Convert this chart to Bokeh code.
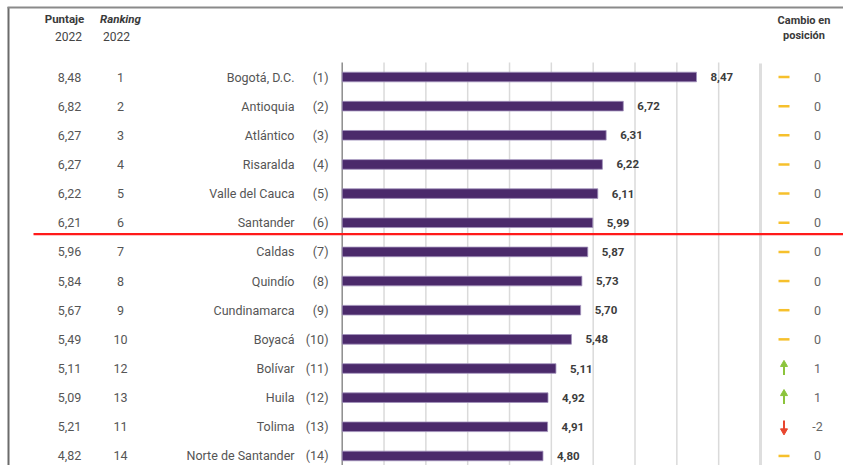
from bokeh.plotting import figure
from bokeh.models import Range1d, ColumnDataSource
from bokeh.embed import file_html
from bokeh.resources import INLINE
from bokeh.core.properties import value

# ---------------- data ----------------
departments = ["Bogotá, D.C.", "Antioquia", "Atlántico", "Risaralda", "Valle del Cauca",
               "Santander", "Caldas", "Quindío", "Cundinamarca", "Boyacá", "Bolívar",
               "Huila", "Tolima", "Norte de Santander"]
rank_2023 = [1, 2, 3, 4, 5, 6, 7, 8, 9, 10, 11, 12, 13, 14]
score_2023 = [8.47, 6.72, 6.31, 6.22, 6.11, 5.99, 5.87, 5.73, 5.70, 5.48, 5.11, 4.92, 4.91, 4.80]
score_2022 = [8.48, 6.82, 6.27, 6.27, 6.22, 6.21, 5.96, 5.84, 5.67, 5.49, 5.11, 5.09, 5.21, 4.82]
rank_2022 = [1, 2, 3, 4, 5, 6, 7, 8, 9, 10, 12, 13, 11, 14]
position_change = [0, 0, 0, 0, 0, 0, 0, 0, 0, 0, 1, 1, -2, 0]
grid_ticks = [1, 2, 3, 4, 5, 6, 7, 8, 9]
cutoff_after_row = 5.39   # red line between 6th and 7th department

# ---------------- layout ----------------
W, H = 843, 465
X0_PX, PX_PER_UNIT = 341.7, 41.83     # px of value 0, px per unit
Y0_PX, PX_PER_ROW = 76.5, 29.15       # px of row 0, px per row

x_start = -X0_PX / PX_PER_UNIT
x_end = (W - X0_PX) / PX_PER_UNIT
y_top = -Y0_PX / PX_PER_ROW
y_bot = (H - Y0_PX) / PX_PER_ROW

def px2x(px):
    return (px - X0_PX) / PX_PER_UNIT

def px2y(py):
    return (py - Y0_PX) / PX_PER_ROW

def fmt(v):
    return f"{v:.2f}".replace(".", ",")

rows = list(range(len(departments)))
FONT = value("Roboto")

p = figure(width=W, height=H, output_backend="svg", toolbar_location=None,
           x_range=Range1d(x_start, x_end), y_range=Range1d(y_bot, y_top),
           min_border=0, min_border_left=0, min_border_right=0,
           min_border_top=0, min_border_bottom=0)
p.xaxis.visible = False
p.yaxis.visible = False
p.xgrid.visible = False
p.ygrid.visible = False
p.outline_line_color = None
p.background_fill_color = "white"
p.border_fill_color = "white"

# frame borders (left & top)
p.segment(x0=[px2x(8)], x1=[px2x(8)], y0=[px2y(6.5)], y1=[y_bot + 1],
          line_color="#6b6b6b", line_width=2)
p.segment(x0=[px2x(7)], x1=[x_end + 1], y0=[px2y(7)], y1=[px2y(7)],
          line_color="#8a8a8a", line_width=2)

# gridlines
g_top = px2y(62)
p.segment(x0=grid_ticks, x1=grid_ticks, y0=[g_top] * len(grid_ticks), y1=[y_bot + 1] * len(grid_ticks),
          line_color="#dadada", line_width=1.5)
p.segment(x0=[10], x1=[10], y0=[px2y(63)], y1=[y_bot + 1], line_color="#dedede", line_width=3)
p.segment(x0=[0], x1=[0], y0=[g_top], y1=[y_bot + 1], line_color="#8c8c8c", line_width=1.5)

# bars
src = ColumnDataSource(dict(
    y=rows, score=score_2023, label=[fmt(v) for v in score_2023],
    s22=[fmt(v) for v in score_2022], r22=[str(r) for r in rank_2022],
    dept=departments, rk=[f"({r})" for r in rank_2023],
    chg=[str(c) for c in position_change],
))
p.hbar(y="y", left=0, right="score", height=0.33, source=src,
       fill_color="#4b2a6b", line_color="#a192bb", line_width=0.8)

# value labels
p.text(x="score", y="y", text="label", source=src, x_offset=14,
       text_font=FONT, text_font_size="11.5px", text_font_style="bold",
       text_color="#3c3c3c", text_baseline="middle", text_align="left")

# left columns
p.text(x=px2x(69), y="y", text="s22", source=src, text_font=FONT, text_font_size="12.5px",
       text_color="#555555", text_baseline="middle", text_align="center")
p.text(x=px2x(120), y="y", text="r22", source=src, text_font=FONT, text_font_size="12.5px",
       text_color="#555555", text_baseline="middle", text_align="center")
p.text(x=px2x(294), y="y", text="dept", source=src, text_font=FONT, text_font_size="12.5px",
       text_color="#555555", text_baseline="middle", text_align="right")
p.text(x=px2x(328), y="y", text="rk", source=src, text_font=FONT, text_font_size="12.5px",
       text_color="#555555", text_baseline="middle", text_align="right")

# change column
p.text(x=px2x(817), y="y", text="chg", source=src, text_font=FONT, text_font_size="12.5px",
       text_color="#666666", text_baseline="middle", text_align="center")
icon_x = px2x(783.5)
zero_rows = [r for r, c in zip(rows, position_change) if c == 0]
up_rows = [r for r, c in zip(rows, position_change) if c > 0]
down_rows = [r for r, c in zip(rows, position_change) if c < 0]
p.scatter(x=[icon_x] * len(zero_rows), y=zero_rows, marker="dash", size=11,
          line_color="#f6c02c", line_width=2.5)
p.segment(x0=[icon_x] * len(up_rows), x1=[icon_x] * len(up_rows),
          y0=[r - 0.12 for r in up_rows], y1=[r + 0.22 for r in up_rows],
          line_color="#8cc43c", line_width=2)
p.scatter(x=[icon_x] * len(up_rows), y=[r - 0.14 for r in up_rows], marker="triangle",
          size=7, fill_color="#8cc43c", line_color="#8cc43c")
p.segment(x0=[icon_x] * len(down_rows), x1=[icon_x] * len(down_rows),
          y0=[r - 0.22 for r in down_rows], y1=[r + 0.12 for r in down_rows],
          line_color="#e8452f", line_width=2)
p.scatter(x=[icon_x] * len(down_rows), y=[r + 0.14 for r in down_rows], marker="inverted_triangle",
          size=7, fill_color="#e8452f", line_color="#e8452f")

# red cutoff line
p.segment(x0=[px2x(33)], x1=[x_end + 1], y0=[cutoff_after_row], y1=[cutoff_after_row],
          line_color="#ff1a1a", line_width=2.2)

# headers
p.text(x=[px2x(64)], y=[px2y(18)], text=["Puntaje"], text_font=FONT, text_font_size="11.5px",
       text_font_style="bold", text_color="#3a3a3a", text_baseline="middle", text_align="center")
p.text(x=[px2x(68)], y=[px2y(36)], text=["2022"], text_font=FONT, text_font_size="12px",
       text_color="#444444", text_baseline="middle", text_align="center")
p.text(x=[px2x(120)], y=[px2y(18)], text=["Ranking"], text_font=FONT, text_font_size="11.5px",
       text_font_style="bold italic", text_color="#3a3a3a", text_baseline="middle", text_align="center")
p.text(x=[px2x(116)], y=[px2y(36)], text=["2022"], text_font=FONT, text_font_size="12px",
       text_color="#444444", text_baseline="middle", text_align="center")
p.text(x=[px2x(803.5), px2x(803.5)], y=[px2y(20), px2y(35)], text=["Cambio en", "posición"],
       text_font=FONT, text_font_size="11px", text_font_style="bold", text_color="#3a3a3a",
       text_baseline="middle", text_align="center")

open("out.html", "w").write(file_html(p, INLINE))
